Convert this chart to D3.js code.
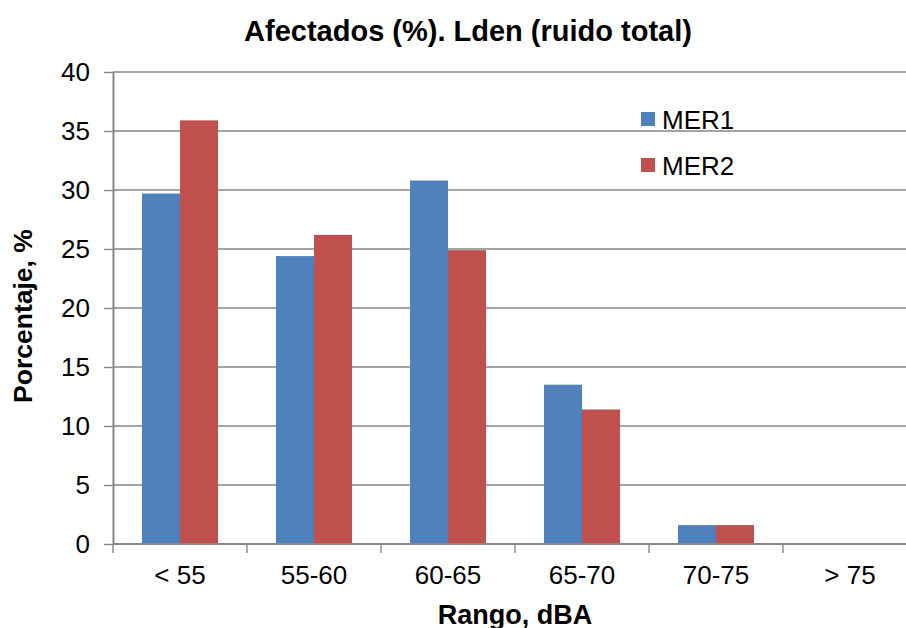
<!DOCTYPE html>
<html>
<head>
<meta charset="utf-8">
<script src="https://cdn.jsdelivr.net/npm/d3@7"></script>
<style>
  body { margin: 0; background: #fff; }
  svg { display: block; }
  text { font-family: Arial, "Liberation Sans", sans-serif; }
</style>
</head>
<body>
<svg width="906" height="628"></svg>
<script>
// data
const rangos = ["< 55", "55-60", "60-65", "65-70", "70-75", "> 75"];
const series = ["MER1", "MER2"];
const mer1 = [29.7, 24.4, 30.8, 13.5, 1.6, 0];
const mer2 = [35.9, 26.2, 24.9, 11.4, 1.6, 0];
const yTicks = [0, 5, 10, 15, 20, 25, 30, 35, 40];
const colors = ["#4F81BD", "#C0504D"];

const svg = d3.select("svg");
const width = +svg.attr("width");
const margin = {top: 72, left: 113};
const innerWidth = 804;   // the plot runs past the right edge, like the original
const innerHeight = 472;
const visibleRight = width - margin.left;  // lines stop at the picture edge

const g = svg.append("g").attr("transform", `translate(${margin.left},${margin.top})`);

const x = d3.scaleBand().domain(rangos).range([0, innerWidth]).paddingInner(0).paddingOuter(0);
const xs = d3.scaleBand().domain(series).range([0, x.bandwidth()]).paddingInner(0).paddingOuter(0.763);
const y = d3.scaleLinear().domain([0, 40]).range([innerHeight, 0]);

// gridlines
g.selectAll(".grid").data(yTicks.filter(d => d > 0)).enter().append("line")
  .attr("x1", 0).attr("x2", Math.min(innerWidth, visibleRight))
  .attr("y1", d => y(d)).attr("y2", d => y(d))
  .attr("stroke", "#868686").attr("stroke-width", 1.4);

// bars
const rows = rangos.map((r, i) => ({rango: r, vals: [mer1[i], mer2[i]]}));
const grp = g.selectAll(".cat").data(rows).enter().append("g")
  .attr("transform", d => `translate(${x(d.rango)},0)`);
grp.selectAll("rect").data(d => d.vals.map((v, j) => ({s: series[j], v: v, c: colors[j]})))
  .enter().append("rect")
  .attr("x", d => xs(d.s))
  .attr("width", xs.bandwidth())
  .attr("y", d => y(d.v))
  .attr("height", d => innerHeight - y(d.v))
  .attr("fill", d => d.c);

// y axis (ticks from d3, labels drawn as plain text)
const yAxis = g.append("g")
  .call(d3.axisLeft(y).tickValues(yTicks).tickSizeInner(9).tickSizeOuter(0).tickFormat(""));
yAxis.select(".domain").attr("stroke", "#868686").attr("stroke-width", 2);
yAxis.selectAll(".tick line").attr("stroke", "#868686").attr("stroke-width", 1.4);
yAxis.selectAll(".tick text").remove();
g.selectAll(".ylabel").data(yTicks).enter().append("text")
  .attr("x", -23).attr("y", d => y(d)).attr("dy", "0.35em")
  .attr("text-anchor", "end").attr("font-size", 26).attr("fill", "#000")
  .text(d => d);

// x axis
g.append("line").attr("x1", 0).attr("x2", Math.min(innerWidth, visibleRight))
  .attr("y1", innerHeight).attr("y2", innerHeight)
  .attr("stroke", "#868686").attr("stroke-width", 2);
g.selectAll(".xtick").data(rangos).enter().append("line")
  .attr("x1", d => x(d)).attr("x2", d => x(d))
  .attr("y1", innerHeight).attr("y2", innerHeight + 9)
  .attr("stroke", "#868686").attr("stroke-width", 1.4);
g.selectAll(".xlabel").data(rangos).enter().append("text")
  .attr("x", d => x(d) + x.bandwidth() / 2).attr("y", innerHeight + 40)
  .attr("text-anchor", "middle").attr("font-size", 26).attr("fill", "#000")
  .text(d => d);

// title
svg.append("text").attr("x", 468).attr("y", 41).attr("text-anchor", "middle")
  .attr("font-size", 29).attr("font-weight", "bold").text("Afectados (%). Lden (ruido total)");

// axis titles
svg.append("text").attr("x", 515).attr("y", 624).attr("text-anchor", "middle")
  .attr("font-size", 27).attr("font-weight", "bold").text("Rango, dBA");
svg.append("text").attr("transform", "translate(32,316) rotate(-90)").attr("text-anchor", "middle")
  .attr("font-size", 26.5).attr("font-weight", "bold").text("Porcentaje, %");

// legend
const leg = svg.append("g").attr("transform", "translate(641,112)");
const li = leg.selectAll("g").data(series).enter().append("g")
  .attr("transform", (d, i) => `translate(0,${i * 46})`);
li.append("rect").attr("width", 14).attr("height", 14).attr("fill", (d, i) => colors[i]);
li.append("text").attr("x", 21).attr("y", 17).attr("font-size", 26).text(d => d);
</script>
</body>
</html>
